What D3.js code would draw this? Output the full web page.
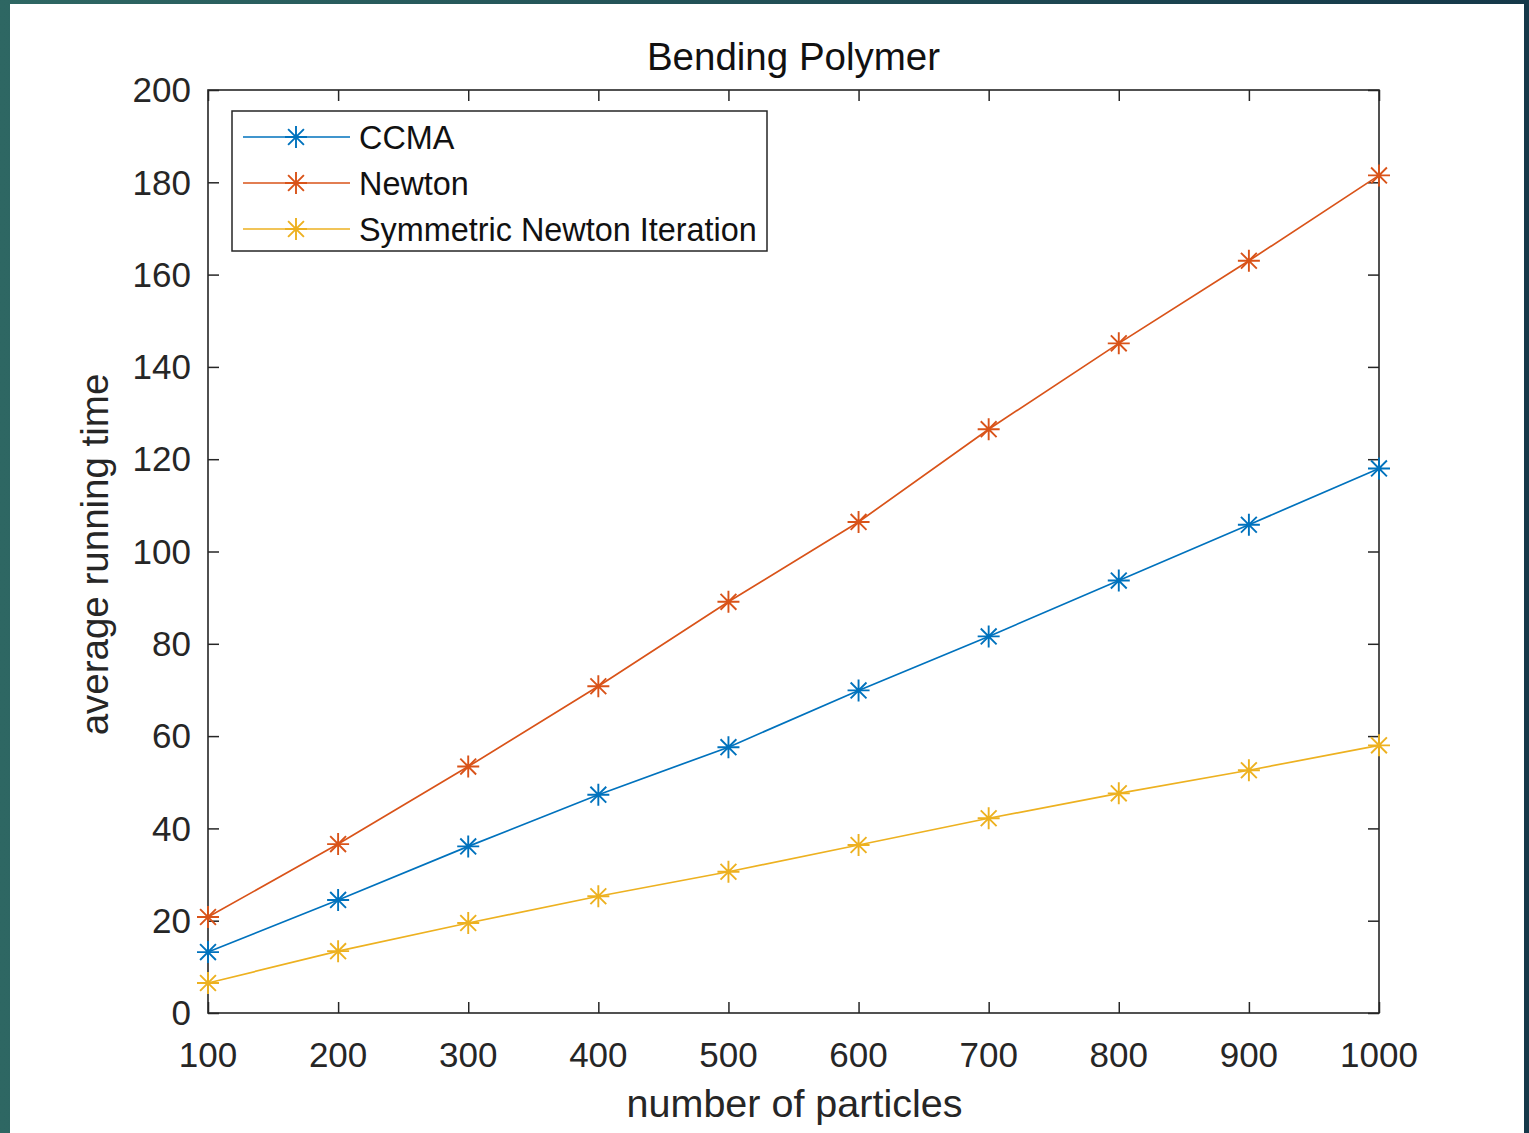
<!DOCTYPE html>
<html><head><meta charset="utf-8">
<script src="https://cdn.jsdelivr.net/npm/d3@7"></script>
<style>html,body{margin:0;padding:0;overflow:hidden;background:#fff}</style>
</head><body>
<script>
const particles = [100, 200, 300, 400, 500, 600, 700, 800, 900, 1000];
const ccma = [13.2, 24.5, 36.1, 47.3, 57.6, 69.9, 81.6, 93.7, 105.8, 118];
const newton = [20.8, 36.6, 53.4, 70.8, 89.1, 106.4, 126.5, 145.1, 163, 181.5];
const symNewton = [6.5, 13.4, 19.5, 25.3, 30.6, 36.4, 42.2, 47.6, 52.6, 58];
const seriesNames = ["CCMA", "Newton", "Symmetric Newton Iteration"];
const seriesColors = ["#0072BD", "#D95319", "#EDB120"];
const xTicks = [100, 200, 300, 400, 500, 600, 700, 800, 900, 1000];
const yTicks = [0, 20, 40, 60, 80, 100, 120, 140, 160, 180, 200];
const titleText = "Bending Polymer";
const xLabel = "number of particles";
const yLabel = "average running time";

const W = 1529, H = 1133;
const svg = d3.select("body").append("svg").attr("width", W).attr("height", H);
const defs = svg.append("defs");
const grad = defs.append("linearGradient").attr("id", "bg").attr("x1", "0").attr("x2", "1").attr("y1", "0").attr("y2", "0");
grad.append("stop").attr("offset", "0").attr("stop-color", "#2e6763");
grad.append("stop").attr("offset", "1").attr("stop-color", "#153849");
svg.append("rect").attr("width", W).attr("height", H).attr("fill", "url(#bg)");
svg.append("rect").attr("x", 10).attr("y", 4).attr("width", 1514).attr("height", H - 4).attr("fill", "#fff");

const L = 208, R = 1379, T = 90, B = 1013;
const x = d3.scaleLinear().domain([100, 1000]).range([L, R]);
const y = d3.scaleLinear().domain([0, 200]).range([B, T]);
const font = "'Liberation Sans', Arial, Helvetica, sans-serif";
const txt = "#262626";

// axes with inward ticks
const tickLen = 11;
const gx = svg.append("g").attr("transform", `translate(0,${B})`)
  .call(d3.axisBottom(x).tickValues(xTicks).tickSize(-tickLen).tickPadding(0).tickFormat(d3.format("d")));
gx.selectAll("text").remove();
const gxTop = svg.append("g").attr("transform", `translate(0,${T})`)
  .call(d3.axisTop(x).tickValues(xTicks).tickSize(-tickLen).tickFormat(""));
const gy = svg.append("g").attr("transform", `translate(${L},0)`)
  .call(d3.axisLeft(y).tickValues(yTicks).tickSize(-tickLen).tickFormat(""));
const gyR = svg.append("g").attr("transform", `translate(${R},0)`)
  .call(d3.axisRight(y).tickValues(yTicks).tickSize(-tickLen).tickFormat(""));
[gx, gxTop, gy, gyR].forEach(g => {
  g.select(".domain").remove();
  g.selectAll("line").attr("stroke", "#262626").attr("stroke-width", 1.5);
});
svg.append("rect").attr("x", L).attr("y", T).attr("width", R - L).attr("height", B - T)
  .attr("fill", "none").attr("stroke", "#262626").attr("stroke-width", 1.6);

// tick labels
svg.append("g").selectAll("text").data(xTicks).join("text")
  .attr("x", d => x(d)).attr("y", 1067).attr("text-anchor", "middle")
  .attr("font-family", font).attr("font-size", 35).attr("fill", txt).text(d => d);
svg.append("g").selectAll("text").data(yTicks).join("text")
  .attr("x", 191).attr("y", d => y(d)).attr("dy", "0.35em").attr("text-anchor", "end")
  .attr("font-family", font).attr("font-size", 35).attr("fill", txt).text(d => d);

// labels
svg.append("text").attr("x", (L + R) / 2).attr("y", 70).attr("text-anchor", "middle")
  .attr("font-family", font).attr("font-size", 38.5).attr("fill", "#111").text(titleText);
svg.append("text").attr("x", (L + R) / 2 + 1).attr("y", 1117).attr("text-anchor", "middle")
  .attr("font-family", font).attr("font-size", 39.5).attr("fill", txt).text(xLabel);
svg.append("text").attr("transform", `translate(108,${(T + B) / 2 + 3}) rotate(-90)`).attr("text-anchor", "middle")
  .attr("font-family", font).attr("font-size", 38.5).attr("fill", txt).text(yLabel);

// asterisk marker
function star(g, cx, cy, color, r) {
  const d = r * 0.72;
  const p = `M${cx - r},${cy}H${cx + r}M${cx},${cy - r}V${cy + r}M${cx - d},${cy - d}L${cx + d},${cy + d}M${cx - d},${cy + d}L${cx + d},${cy - d}`;
  g.append("path").attr("d", p).attr("stroke", color).attr("stroke-width", 1.9).attr("fill", "none");
}

const allSeries = [ccma, newton, symNewton];
const line = d3.line().x((d, i) => x(particles[i])).y(d => y(d));
allSeries.forEach((vals, k) => {
  const g = svg.append("g");
  g.append("path").datum(vals).attr("d", line).attr("fill", "none")
    .attr("stroke", seriesColors[k]).attr("stroke-width", 1.7);
  vals.forEach((v, i) => star(g, x(particles[i]), y(v), seriesColors[k], 11));
});

// legend
const lg = svg.append("g");
lg.append("rect").attr("x", 232).attr("y", 111).attr("width", 535).attr("height", 140)
  .attr("fill", "#fff").attr("stroke", "#262626").attr("stroke-width", 1.5);
seriesNames.forEach((n, k) => {
  const yy = 137 + k * 46;
  lg.append("line").attr("x1", 243).attr("x2", 350).attr("y1", yy).attr("y2", yy)
    .attr("stroke", seriesColors[k]).attr("stroke-width", 1.7);
  star(lg, 296, yy, seriesColors[k], 11);
  lg.append("text").attr("x", 359).attr("y", yy).attr("dy", "0.36em")
    .attr("font-family", font).attr("font-size", 32.4).attr("fill", "#111").text(n);
});
</script>
</body></html>
